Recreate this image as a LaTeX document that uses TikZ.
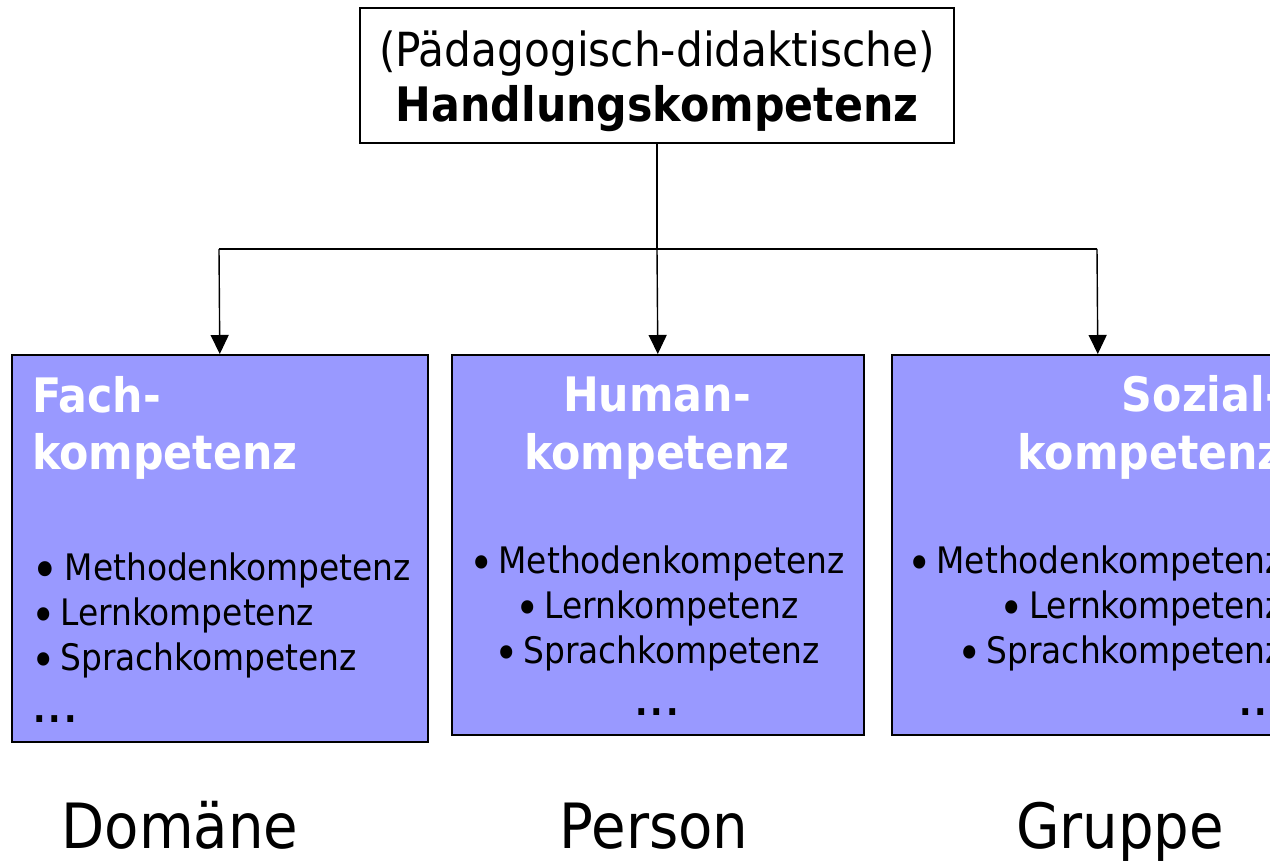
\documentclass[tikz,border=0pt]{standalone}
\usepackage{fontspec}
\setmainfont{DejaVu Sans Condensed}[BoldFont={DejaVu Sans Condensed Bold}]
\usetikzlibrary{arrows.meta}
\definecolor{boxfill}{HTML}{9999FF}
\newcommand{\bul}{\raisebox{-6.5pt}{\fontsize{46}{46}\selectfont•}\hspace{5pt}}
\newcommand{\dotsx}{\textbf{.\hspace{3pt}.\hspace{3pt}.}}
\tikzset{
  kbox/.style={draw=black, line width=1.6pt, fill=boxfill, inner sep=0pt, anchor=north west},
  ttl/.style={font=\fontsize{47.5}{50}\selectfont\bfseries, text=white, inner sep=0pt},
  itm/.style={font=\fontsize{36.5}{40}\selectfont, inner sep=0pt},
  bot/.style={font=\fontsize{62.4}{66}\selectfont, inner sep=0pt, anchor=base},
  conn/.style={line width=1.4pt},
  arr/.style={line width=1.4pt, -{Triangle[width=18pt,length=19pt]}}
}
\begin{document}
\begin{tikzpicture}[x=1pt,y=-1pt]
\path[use as bounding box] (0,0) rectangle (1270,866);
% top box
\node[draw=black, line width=1.6pt, fill=white, minimum width=594pt, minimum height=135pt, inner sep=0pt] (top) at (657,75.5) {};
\node[font=\fontsize{47}{50}\selectfont, inner sep=0pt, anchor=base] (t1) at (657,67) {(Pädagogisch-didaktische)};
\node[font=\fontsize{47.5}{50}\selectfont\bfseries, inner sep=0pt, anchor=base] (t2) at (657,122) {Handlungskompetenz};
% boxes
\node[kbox, minimum width=416pt, minimum height=387pt] (fach) at (11,354) {};
\node[kbox, minimum width=412pt, minimum height=380pt] (human) at (451,354) {};
\node[kbox, minimum width=412pt, minimum height=380pt] (sozial) at (891,354) {};
% connectors
\coordinate (j) at (657,249);
\coordinate (jl) at (219,249);
\coordinate (jr) at (1097,249);
\draw[conn] (top.south) -- (j);
\draw[conn] (jl) -- (jr);
\draw[arr] (jl) -- (fach.north);
\draw[arr] (j) -- (human.north);
\draw[arr] (jr) -- (sozial.north);
% box 1 text
\node[ttl, anchor=base west] (f1) at (32,413) {Fach-};
\node[ttl, anchor=base west] (f2) at (32,470) {kompetenz};
\node[itm, anchor=base west] (f3) at (31,580) {\raisebox{-8pt}{\fontsize{52}{52}\selectfont•}\hspace{6pt}Methodenkompetenz};
\node[itm, anchor=base west] (f4) at (31,625) {\bul Lernkompetenz};
\node[itm, anchor=base west] (f5) at (31,670) {\bul Sprachkompetenz};
\node[itm, anchor=base west] (f6) at (33,722) {\dotsx};
% box 2 text
\node[itm, anchor=base] (h3) at (657,573) {\bul Methodenkompetenz};
\node[ttl, anchor=base] (h1) at (657,412) {Human-};
\node[ttl, anchor=base] (h2) at (657,470) {kompetenz};
\node[itm, anchor=base] (h4) at (657,618) {\bul Lernkompetenz};
\node[itm, anchor=base] (h5) at (657,663) {\bul Sprachkompetenz};
\node[itm, anchor=base] (h6) at (657,715) {\dotsx};
% box 3 text
\node[ttl, anchor=base east] (s1) at (1283,412) {Sozial-};
\node[ttl, anchor=base east] (s2) at (1283,470) {kompetenz};
\node[itm, anchor=base east] (s3) at (1283,573) {\bul Methodenkompetenz};
\node[itm, anchor=base east] (s4) at (1283,618) {\bul Lernkompetenz};
\node[itm, anchor=base east] (s5) at (1283,663) {\bul Sprachkompetenz};
\node[itm, anchor=base east] (s6) at (1283,715) {\dotsx};
% bottom labels
\node[bot] (d) at (180,848) {Domäne};
\node[bot] (p) at (654,848) {Person};
\node[bot] (g) at (1120,848) {Gruppe};
\end{tikzpicture}
\end{document}
